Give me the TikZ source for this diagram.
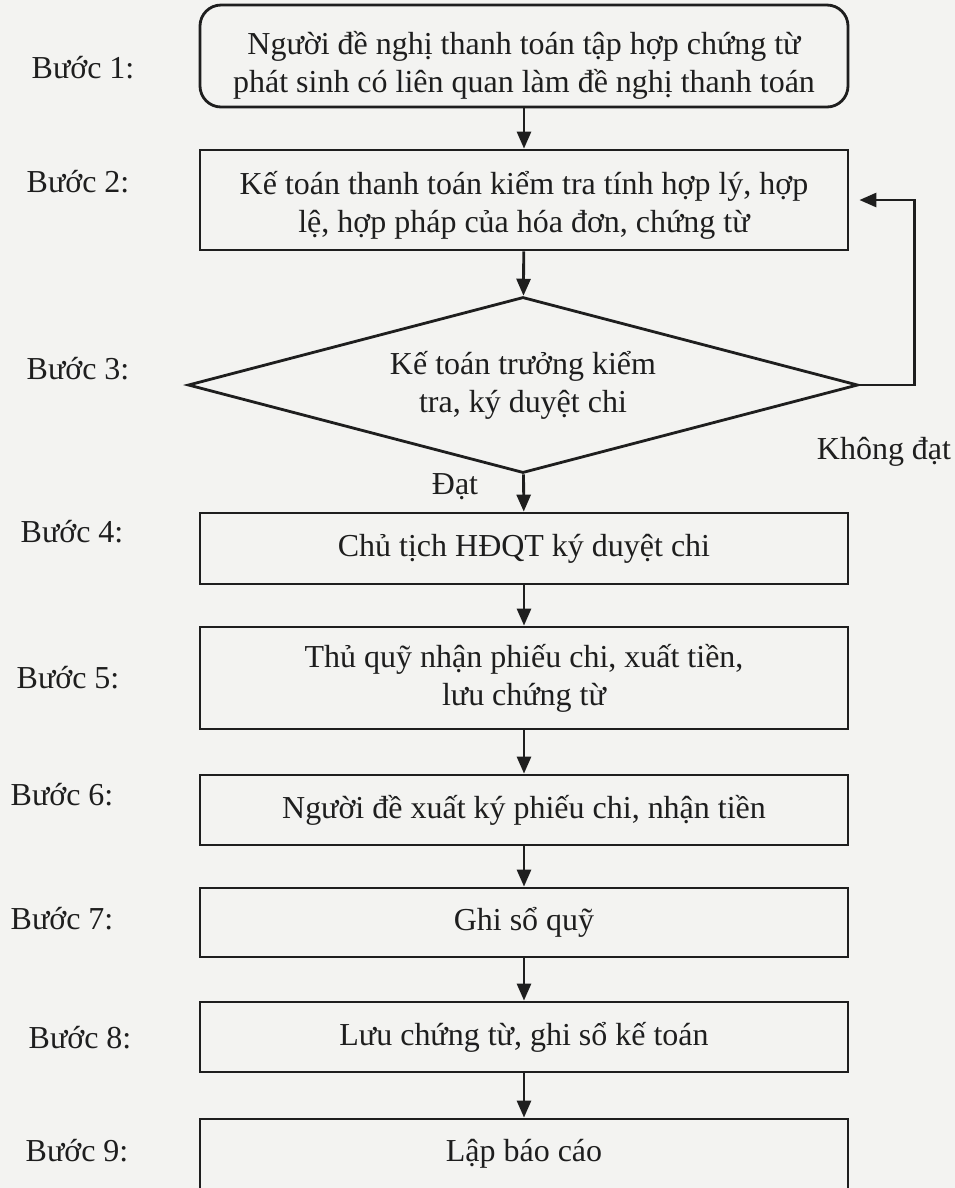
\documentclass[tikz,border=0pt]{standalone}
\usepackage{fontspec}
\setmainfont{Liberation Serif}
\usetikzlibrary{shapes.geometric,arrows.meta,positioning}
\definecolor{paper}{RGB}{243,243,241}
\definecolor{ink}{RGB}{30,30,30}
\newcommand{\twolines}[3]{\raisebox{#1}[\height][\depth]{\begin{tabular}{@{}c@{}}#2\\#3\end{tabular}}}

\begin{document}
\begin{tikzpicture}[
    font=\fontsize{9.1}{10.8}\selectfont,
    stepbox/.style={draw=ink,text=ink,line width=0.8pt,minimum width=6.48cm,align=center,inner sep=0pt},
    decide/.style={draw=ink,text=ink,diamond,aspect=3.8,line width=0.8pt,minimum width=6.70cm,minimum height=1.76cm,align=center,inner sep=0pt},
    steplabel/.style={text=ink,anchor=west,inner sep=0pt},
    flow/.style={draw=ink,line width=0.8pt,-{Triangle[length=0.17cm,width=0.14cm]}},
  ]
    \fill[paper] (0,0) rectangle (9.55,-11.88);
    \useasboundingbox (0,0) rectangle (9.55,-11.88);
    %%% boxes
    \node[stepbox,rounded corners=6pt,minimum height=1.02cm] (tap) at (5.24,-0.56)
      {\twolines{-0.10cm}{Người đề nghị thanh toán tập hợp chứng từ}{phát sinh có liên quan làm đề nghị thanh toán}};
    \node[stepbox,minimum height=1.00cm] (kiem) at (5.24,-2.00)
      {\twolines{-0.06cm}{Kế toán thanh toán kiểm tra tính hợp lý, hợp}{lệ, hợp pháp của hóa đơn, chứng từ}};
    \node[decide] (duyet) at (5.23,-3.85) {Kế toán trưởng kiểm\\ tra, ký duyệt chi};
    \node[stepbox,minimum height=0.71cm] (chutich) at (5.24,-5.485) {Chủ tịch HĐQT ký duyệt chi};
    \node[stepbox,minimum height=1.02cm] (thuquy) at (5.24,-6.78)
      {Thủ quỹ nhận phiếu chi, xuất tiền,\\ lưu chứng từ};
    \node[stepbox,minimum height=0.70cm] (nhantien) at (5.24,-8.10) {Người đề xuất ký phiếu chi, nhận tiền};
    \node[stepbox,minimum height=0.69cm] (soquy) at (5.24,-9.225) {Ghi sổ quỹ};
    \node[stepbox,minimum height=0.70cm] (soketoan) at (5.24,-10.37) {Lưu chứng từ, ghi sổ kế toán};
    \node[stepbox,minimum height=0.70cm] (baocao) at (5.24,-11.54) {Lập báo cáo};
    %%% step labels
    \foreach \n/\x/\y in {1/0.31/0.68, 2/0.26/1.82, 3/0.26/3.69, 4/0.20/5.32, 5/0.16/6.78,
                          6/0.10/7.95, 7/0.10/9.19, 8/0.28/10.38, 9/0.25/11.51}
    \node[steplabel] (buoc\n) at (\x,-\y) {Bước \n:};
    %%% arrows
    \draw[flow] (tap) -- (kiem);
    \draw[flow] (kiem) -- (duyet);
    \draw[flow] (duyet) -- (chutich);
    \draw[flow] (chutich) -- (thuquy);
    \draw[flow] (thuquy) -- (nhantien);
    \draw[flow] (nhantien) -- (soquy);
    \draw[flow] (soquy) -- (soketoan);
    \draw[flow] (soketoan) -- (baocao);
    \draw[flow,shorten >=0.1cm] (duyet.east) -- ++(0.55,0) |- (kiem.east);
    \node[text=ink] (dat) at (4.55,-4.87) {Đạt};
    \node[text=ink] (khongdat) at (8.84,-4.52) {Không đạt};
  \end{tikzpicture}
\end{document}
